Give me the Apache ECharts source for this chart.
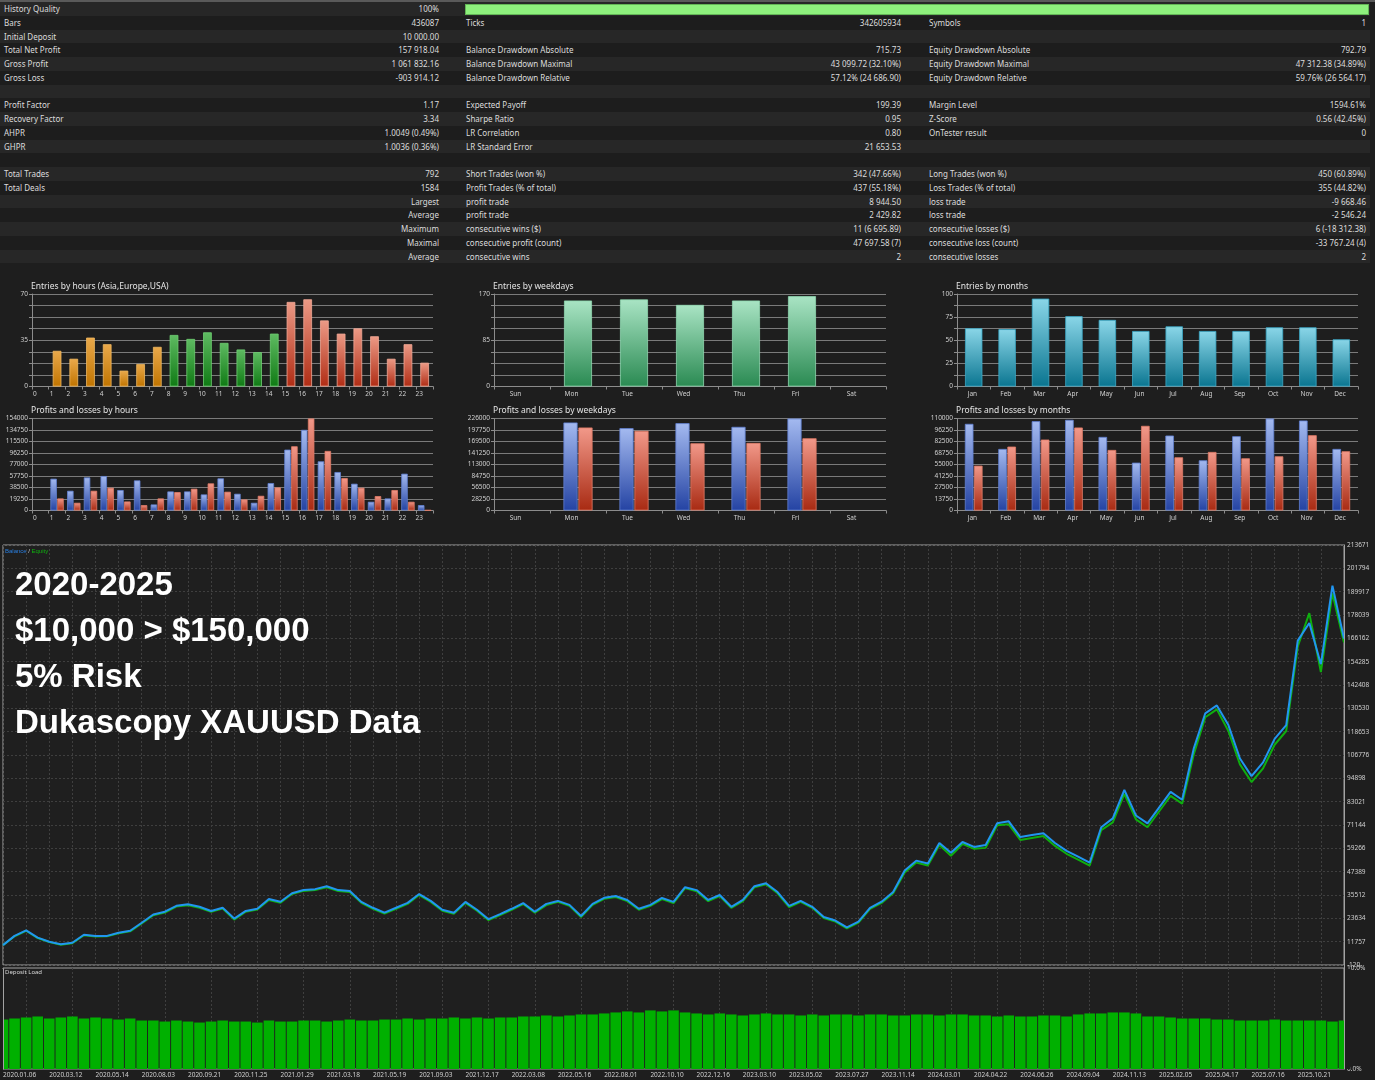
<!DOCTYPE html>
<html><head><meta charset="utf-8">
<script src="https://cdn.jsdelivr.net/npm/echarts@6/dist/echarts.min.js"></script>
<style>
html,body{margin:0;padding:0;background:#1e1e1e;width:1375px;height:1080px;overflow:hidden;}
#chart{position:absolute;left:0;top:0;width:1375px;height:1080px;}
#report{position:absolute;left:0;top:0;width:1375px;height:266px;font-family:"Noto Sans","Open Sans",sans-serif;font-size:8px;color:#dcdcdc;}
#report .topline{position:absolute;left:0;top:0;width:1375px;height:2px;background:#5a5a5a;}
.row{position:absolute;left:0;width:1370px;height:13.75px;line-height:13.75px;}
.row.odd{background:#272727}
.row.even{background:#1d1d1d}
.c{position:absolute;top:0;white-space:nowrap;}
.bar{position:absolute;left:465px;top:2px;width:902px;height:9px;background:#8ef07d;border:1px solid #63b556;}
</style></head>
<body>
<div id="chart"></div>
<div id="report"><div class="topline"></div></div>
<script>
// ---------- report table ----------
const reportRows = [
 ['History Quality','100%','BAR','','',''],
 ['Bars','436087','Ticks','342605934','Symbols','1'],
 ['Initial Deposit','10 000.00','','','',''],
 ['Total Net Profit','157 918.04','Balance Drawdown Absolute','715.73','Equity Drawdown Absolute','792.79'],
 ['Gross Profit','1 061 832.16','Balance Drawdown Maximal','43 099.72 (32.10%)','Equity Drawdown Maximal','47 312.38 (34.89%)'],
 ['Gross Loss','-903 914.12','Balance Drawdown Relative','57.12% (24 686.90)','Equity Drawdown Relative','59.76% (26 564.17)'],
 ['','','','','',''],
 ['Profit Factor','1.17','Expected Payoff','199.39','Margin Level','1594.61%'],
 ['Recovery Factor','3.34','Sharpe Ratio','0.95','Z-Score','0.56 (42.45%)'],
 ['AHPR','1.0049 (0.49%)','LR Correlation','0.80','OnTester result','0'],
 ['GHPR','1.0036 (0.36%)','LR Standard Error','21 653.53','',''],
 ['','','','','',''],
 ['Total Trades','792','Short Trades (won %)','342 (47.66%)','Long Trades (won %)','450 (60.89%)'],
 ['Total Deals','1584','Profit Trades (% of total)','437 (55.18%)','Loss Trades (% of total)','355 (44.82%)'],
 ['','Largest','profit trade','8 944.50','loss trade','-9 668.46'],
 ['','Average','profit trade','2 429.82','loss trade','-2 546.24'],
 ['','Maximum','consecutive wins ($)','11 (6 695.89)','consecutive losses ($)','6 (-18 312.38)'],
 ['','Maximal','consecutive profit (count)','47 697.58 (7)','consecutive loss (count)','-33 767.24 (4)'],
 ['','Average','consecutive wins','2','consecutive losses','2']
];

// ---------- small charts data ----------
const hours = ['0','1','2','3','4','5','6','7','8','9','10','11','12','13','14','15','16','17','18','19','20','21','22','23'];
const hourEntries = [0,27,21,37,32,12,17,30,39,36,41,33,28,26,40,64,66,50,40,44,38,21,32,18];
const hourProfit = [0,53200,33000,55400,57700,34200,50400,10100,31900,31900,26900,53800,28000,12900,45900,101900,135000,82300,64400,44800,14600,20200,61600,9000];
const hourLoss   = [0,20200,12900,33000,38100,15100,9000,20200,30800,36400,45400,31400,18500,24600,38600,107500,154000,99700,54300,38100,24100,34200,14600,600];
const hourEntryTicks = [0,35,70];
const hourPLTicks = [0,19250,38500,57750,77000,96250,115500,134750,154000];

const weekdays = ['Sun','Mon','Tue','Wed','Thu','Fri','Sat'];
const weekdayEntries = [0,158,160,150,158,166,0];
const weekdayProfit = [0,216200,202200,214500,205500,226000,0];
const weekdayLoss   = [0,203900,195600,165200,166000,177500,0];
const weekdayEntryTicks = [0,85,170];
const weekdayPLTicks = [0,28250,56500,84750,113000,141250,169500,197750,226000];

const months = ['Jan','Feb','Mar','Apr','May','Jun','Jul','Aug','Sep','Oct','Nov','Dec'];
const monthEntries = [63,62,95,76,72,60,65,60,60,64,64,51];
const monthProfit = [103600,73600,106800,108400,88000,57200,89600,60000,88800,110000,107600,73600];
const monthLoss   = [53600,76400,84800,99200,72400,101200,63600,70000,62400,64800,90000,70800];
const monthEntryTicks = [0,25,50,75,100];
const monthPLTicks = [0,13750,27500,41250,55000,68750,82500,96250,110000];

// ---------- balance / equity ----------
const dateTicks = ['2020.01.06','2020.03.12','2020.05.14','2020.08.03','2020.09.21','2020.11.25','2021.01.29','2021.03.18','2021.05.19','2021.09.03','2021.12.17','2022.03.08','2022.05.16','2022.08.01','2022.10.10','2022.12.16','2023.03.10','2023.05.02','2023.07.27','2023.11.14','2024.03.01','2024.04.22','2024.06.26','2024.09.04','2024.11.13','2025.02.05','2025.04.17','2025.07.16','2025.10.21'];
const balanceTicks = [-120,11757,23634,35512,47389,59266,71144,83021,94898,106776,118653,130530,142408,154285,166162,178039,189917,201794,213671];
const balance = [
10000,14700,17500,13800,11700,10400,11200,15300,14700,14700,
16300,17300,21400,25600,27000,30000,30800,29500,27400,29000,
23500,27400,28500,33500,32100,36400,38100,38500,40000,38000,
37500,32000,29000,26500,29000,31500,36000,32500,28000,26500,
32000,28000,23200,25800,28500,31400,27000,31000,32500,30500,
24800,31000,34100,35000,33000,28500,30500,34000,32000,39500,
38000,33000,35500,29500,33000,40000,41500,37000,30000,32500,
29500,24300,22500,19000,22000,29000,32100,37000,48000,53000,
51500,62000,57000,62500,60000,61000,72000,73000,65000,66000,
67000,62000,58000,55000,52000,70000,74500,89000,76000,72000,
80000,88000,84000,110000,128000,132000,122000,105000,96000,103000,
115000,122000,165000,174000,153000,193000,166000];
const equity = [
10000,14500,17300,13600,11600,10200,11000,15000,14400,14500,
16000,17000,21000,25200,26600,29600,30300,29000,27000,28600,
23000,27000,28100,33000,31600,36000,37600,38000,39400,37500,
37000,31500,28500,26000,28500,31000,35500,32000,27500,26000,
31500,27500,22700,25300,28000,30900,26500,30400,32000,30000,
24300,30500,33600,34500,32400,28000,30000,33400,31400,39000,
37400,32400,35000,29000,32400,39400,41000,36400,29400,32000,
29000,23800,22000,18500,21500,28400,31500,36400,47000,52000,
50500,61000,55500,61500,59000,59500,71000,71500,63500,64500,
65500,60500,56500,53500,50500,68500,72500,87000,74000,70000,
78000,86000,82000,107000,126000,130000,119000,102000,93000,100000,
112000,119000,162000,179000,149000,189000,164000];
const depositLoad = [
4.9,5.0,5.1,5.2,5.0,5.1,5.2,5.0,5.1,5.0,
4.9,5.0,4.8,4.8,4.7,4.8,4.7,4.6,4.7,4.8,
4.7,4.7,4.6,4.8,4.7,4.7,4.8,4.8,4.7,4.8,
4.9,4.8,4.8,4.9,4.9,5.0,4.9,5.0,5.0,5.1,
5.0,5.1,5.0,5.1,5.1,5.2,5.2,5.3,5.2,5.3,
5.4,5.4,5.5,5.6,5.7,5.6,5.8,5.7,5.8,5.6,
5.5,5.4,5.5,5.4,5.3,5.4,5.5,5.4,5.4,5.3,
5.4,5.3,5.4,5.4,5.3,5.4,5.4,5.3,5.3,5.4,
5.4,5.3,5.4,5.4,5.3,5.3,5.2,5.3,5.2,5.2,
5.3,5.3,5.2,5.4,5.5,5.5,5.6,5.6,5.5,5.2,
5.2,5.1,5.0,5.0,5.0,4.9,4.9,4.8,4.8,4.8,
4.9,4.8,4.8,4.8,4.8,4.7,4.8];
const depositTicks = [0,10];
const overlayLines = ['2020-2025','$10,000 > $150,000','5% Risk','Dukascopy XAUUSD Data'];

// ---------- build report ----------
(function(){
  const rep = document.getElementById('report');
  reportRows.forEach((r,i)=>{
    const d = document.createElement('div');
    d.className = 'row ' + (i%2===0 ? 'odd' : 'even');
    d.style.top = (2 + i*13.75) + 'px';
    const cell = (txt, left, width, right) => {
      const s = document.createElement('span'); s.className='c'; s.textContent = txt;
      if (right) { s.style.left='0px'; s.style.width=width+'px'; s.style.textAlign='right'; }
      else s.style.left = left+'px';
      d.appendChild(s);
    };
    cell(r[0],4); cell(r[1],0,439,true);
    if (r[2]==='BAR') { const b=document.createElement('div'); b.className='bar'; d.appendChild(b); }
    else { cell(r[2],466); cell(r[3],0,901,true); cell(r[4],929); cell(r[5],0,1366,true); }
    rep.appendChild(d);
  });
})();

// ---------- charts ----------
const FONT = 'Noto Sans';
const AX = '#8c8c8c', LBL = '#d0d0d0';
function grad(top, bottom){ return {type:'linear',x:0,y:0,x2:0,y2:1,colorStops:[{offset:0,color:top},{offset:1,color:bottom}]}; }
function catAxis(gi, data, shift){
  return {type:'category', gridIndex:gi, data:data, boundaryGap:true,
    axisLine:{lineStyle:{color:AX}}, axisTick:{show:true,length:3,lineStyle:{color:AX}},
    axisLabel:{color:LBL, fontSize:6.5, margin:4, interval:0, padding:[0, shift*2, 0, 0]},
    splitLine:{show:false}};
}
function valAxis(gi, ticks, divisions){
  const max = ticks[ticks.length-1];
  return {type:'value', gridIndex:gi, min:0, max:max, interval:max/divisions,
    axisLine:{show:true,lineStyle:{color:AX}}, axisTick:{show:true,length:3,lineStyle:{color:AX}},
    axisLabel:{color:LBL, fontSize:6.5, margin:4,
      formatter: v => ticks.some(t=>Math.abs(t-v)<1e-6) ? String(Math.round(v)) : ''},
    splitLine:{show:true,lineStyle:{color:'#7b7b7b',width:1}}};
}
// bars with value 0 are drawn without outline (no stray lines)
function items(values, style){
  return values.map(v => ({value:v, itemStyle: v === 0 ? Object.assign({}, style, {borderWidth:0, opacity:0}) : style}));
}
const hourColor = h => h < 8 ? ['#eaa94b','#c07400','#f0b860'] : (h < 15 ? ['#5fbb62','#0f7a14','#6fcf72'] : ['#ec9a86','#b02c14','#f2a896']);
const blueStyle = {color:grad('#a4baf0','#2443a3'), borderColor:'#5f7fd0', borderWidth:0.8};
const redStyle  = {color:grad('#f2998a','#a82a12'), borderColor:'#e07a66', borderWidth:0.8};

const grids = [
  {left:32, top:294, width:401, height:92.5},
  {left:32, top:418.5, width:401, height:92},
  {left:494, top:294, width:392, height:92.5},
  {left:494, top:418.5, width:392, height:92},
  {left:957, top:294, width:401, height:92.5},
  {left:957, top:418.5, width:401, height:92},
  {left:3, top:545, width:1341, height:420, show:true, borderColor:'#a3a3a3', borderWidth:1, backgroundColor:'#1f1f1f'},
  {left:3, top:968, width:1341, height:101, show:true, borderColor:'#a3a3a3', borderWidth:1, backgroundColor:'#1f1f1f'}
];

const idxCats = balance.map((v,i)=> i%4===0 && dateTicks[i/4] ? dateTicks[i/4] : String(i));
const step = (balanceTicks[balanceTicks.length-1]-balanceTicks[0])/(balanceTicks.length-1);

const xAxes = [
  catAxis(0, hours, 5.5), catAxis(1, hours, 5.5),
  catAxis(2, weekdays, 6.5), catAxis(3, weekdays, 6.5),
  catAxis(4, months, 1.3), catAxis(5, months, 1.3),
  {type:'category', gridIndex:6, data:idxCats, boundaryGap:false,
   axisLine:{show:false}, axisTick:{show:false}, axisLabel:{show:false},
   splitLine:{show:true, interval:(i)=> i%2===0, lineStyle:{color:'#3f3f3f', type:[2,2], width:1}}},
  {type:'category', gridIndex:7, data:idxCats, boundaryGap:false,
   axisLine:{show:false}, axisTick:{show:false},
   axisLabel:{show:true, interval:(i)=> i%4===0, align:'left', color:LBL, fontSize:6.5, margin:3,
     formatter:(v,i)=> (i%4===0 && dateTicks[i/4]) ? dateTicks[i/4] : ''},
   splitLine:{show:true, interval:(i)=> i%4===2, lineStyle:{color:'#3f3f3f', type:[2,2], width:1}}}
];
const yAxes = [
  valAxis(0, hourEntryTicks, 8), valAxis(1, hourPLTicks, 8),
  valAxis(2, weekdayEntryTicks, 8), valAxis(3, weekdayPLTicks, 8),
  valAxis(4, monthEntryTicks, 8), valAxis(5, monthPLTicks, 8),
  {type:'value', gridIndex:6, position:'right', min:balanceTicks[0], max:balanceTicks[balanceTicks.length-1], interval:step,
   axisLine:{show:false}, axisTick:{show:false},
   axisLabel:{color:LBL, fontSize:6.5, margin:3, showMinLabel:true, showMaxLabel:true,
     formatter: v => { const k = Math.round((v - balanceTicks[0])/step); return balanceTicks[k] !== undefined ? String(balanceTicks[k]) : ''; }},
   splitLine:{show:true, lineStyle:{color:'#3f3f3f', type:[2,2], width:1}}},
  {type:'value', gridIndex:7, position:'right', min:depositTicks[0], max:depositTicks[1], interval:depositTicks[1]-depositTicks[0],
   axisLine:{show:false}, axisTick:{show:false},
   axisLabel:{color:LBL, fontSize:6.5, margin:3, formatter: v => v.toFixed(1)+'%'},
   splitLine:{show:false}}
];

function plSeries(xi, profit, loss, gap){
  return [
    {type:'bar', xAxisIndex:xi, yAxisIndex:xi, data:items(profit, blueStyle), barGap:'6%', barCategoryGap:gap},
    {type:'bar', xAxisIndex:xi, yAxisIndex:xi, data:items(loss, redStyle), barGap:'6%', barCategoryGap:gap}
  ];
}

const series = [
  {type:'bar', xAxisIndex:0, yAxisIndex:0, barWidth:'52%',
   data: hourEntries.map((v,h)=>{ const c=hourColor(h); return items([v], {color:grad(c[0],c[1]), borderColor:c[2], borderWidth:0.8})[0]; })},
  ...plSeries(1, hourProfit, hourLoss, '20%'),
  {type:'bar', xAxisIndex:2, yAxisIndex:2, barWidth:'50%',
   data:items(weekdayEntries, {color:grad('#a9e4c4','#2a8a52'), borderColor:'#8fd8b0', borderWidth:0.8})},
  ...plSeries(3, weekdayProfit, weekdayLoss, '48%'),
  {type:'bar', xAxisIndex:4, yAxisIndex:4, barWidth:'52%',
   data:items(monthEntries, {color:grad('#8ad6e8','#0a7590'), borderColor:'#3aa8c6', borderWidth:0.8})},
  ...plSeries(5, monthProfit, monthLoss, '47%'),
  {type:'line', name:'Equity', xAxisIndex:6, yAxisIndex:6, data:equity, symbol:'none',
   lineStyle:{color:'#0fae0f', width:2}, z:3},
  {type:'line', name:'Balance', xAxisIndex:6, yAxisIndex:6, data:balance, symbol:'none',
   lineStyle:{color:'#2196f0', width:2}, z:4},
  {type:'bar', name:'Deposit Load', xAxisIndex:7, yAxisIndex:7, data:depositLoad, barCategoryGap:'8%', clip:true,
   itemStyle:{color:'#00b000'}}
];

const tStyle = {color:'#e4e4e4', fontSize:8.5, fontWeight:'normal', fontFamily:FONT};
const titles = [
  {text:'Entries by hours (Asia,Europe,USA)', left:31, top:282},
  {text:'Profits and losses by hours', left:31, top:406},
  {text:'Entries by weekdays', left:493, top:282},
  {text:'Profits and losses by weekdays', left:493, top:406},
  {text:'Entries by months', left:956, top:282},
  {text:'Profits and losses by months', left:956, top:406}
].map(t => Object.assign(t, {padding:0, textStyle:tStyle}));

const overlayY = [586, 632, 678, 723.5];
const graphics = overlayLines.map((t,i)=>({type:'text', x:15, y:overlayY[i], z:100,
  style:{text:t, fill:'#ffffff', font:'bold 33px "Liberation Sans", Arial, sans-serif', verticalAlign:'middle'}}));
graphics.push({type:'text', x:5, y:548, z:100, style:{text:'{b|Balance} {s|/} {e|Equity}', fontSize:6, fontFamily:FONT,
  rich:{b:{fill:'#2a7fe0', fontSize:6}, s:{fill:'#d0d0d0', fontSize:6}, e:{fill:'#10b010', fontSize:6}}}});
graphics.push({type:'text', x:5, y:969, z:100, style:{text:'Deposit Load', fill:'#d8d8d8', fontSize:6, fontFamily:FONT}});
// masks so the edge bars of the deposit pane do not spill past its border
graphics.push({type:'rect', z:50, shape:{x:1344.5, y:969, width:6, height:100}, style:{fill:'#1e1e1e'}});
graphics.push({type:'rect', z:50, shape:{x:0, y:969, width:3, height:100}, style:{fill:'#1e1e1e'}});
graphics.push({type:'line', z:51, shape:{x1:1344.5, y1:544.5, x2:1344.5, y2:1069.5}, style:{stroke:'#a3a3a3', lineWidth:1}});
graphics.push({type:'line', z:51, shape:{x1:3.5, y1:968.5, x2:3.5, y2:1069.5}, style:{stroke:'#a3a3a3', lineWidth:1}});

const chart = echarts.init(document.getElementById('chart'), null, {renderer:'canvas'});
chart.setOption({
  backgroundColor:'#1e1e1e',
  animation:false,
  textStyle:{fontFamily:FONT},
  title: titles,
  grid: grids,
  xAxis: xAxes,
  yAxis: yAxes,
  series: series,
  graphic: graphics
});
</script>
</body></html>
